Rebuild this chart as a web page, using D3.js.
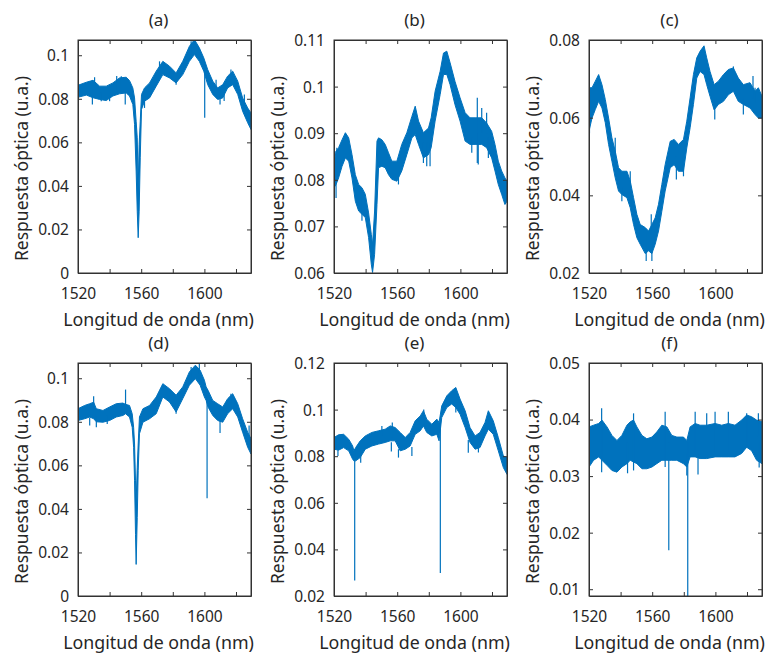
<!DOCTYPE html>
<html>
<head>
<meta charset="utf-8">
<script src="https://cdn.jsdelivr.net/npm/d3@7"></script>
<style>
  body { margin: 0; background: #fff; }
  svg text { font-family: "Noto Sans", sans-serif; fill: #262626; }
</style>
</head>
<body>
<svg id="canvas" width="771" height="656"></svg>
<script>
// ---- data (wavelength in nm, response in a.u.) ----
// each panel: noise band (lower / upper edge) + single spikes

const xDomain = [1520, 1629.5];
const xTicks = [1520, 1540, 1560, 1580, 1600, 1620];
const xTickLabels = ['1520', '', '1560', '', '1600', ''];

// (a)
const wlA = [1520, 1525.3, 1529.5, 1533.7, 1537.9, 1542.1, 1546.3, 1550.5, 1552.6, 1554.7, 1555.8, 1556.8, 1557.5, 1558.1, 1558.7, 1559.4, 1560.2, 1562.1, 1565.3, 1569.5, 1573.7, 1577.9, 1582.1, 1586.3, 1590.5, 1593.7, 1596.8, 1599.6, 1602.1, 1605.3, 1608.4, 1611.6, 1614.7, 1617.9, 1621.1, 1624.2, 1627.4, 1629.5];
const hiA = [0.0862, 0.0876, 0.0885, 0.0858, 0.0858, 0.0873, 0.0896, 0.0899, 0.0884, 0.0850, 0.0804, 0.0697, 0.0621, 0.0391, 0.0590, 0.0697, 0.0820, 0.0850, 0.0873, 0.0927, 0.0972, 0.0950, 0.0919, 0.0972, 0.1041, 0.1072, 0.1034, 0.0988, 0.0934, 0.0881, 0.0850, 0.0865, 0.0904, 0.0927, 0.0881, 0.0804, 0.0758, 0.0735];
const loA = [0.0807, 0.0817, 0.0805, 0.0797, 0.0792, 0.0813, 0.0823, 0.0827, 0.0813, 0.0774, 0.0682, 0.0468, 0.0284, 0.0162, 0.0284, 0.0529, 0.0751, 0.0789, 0.0804, 0.0858, 0.0911, 0.0896, 0.0873, 0.0911, 0.0972, 0.1003, 0.0972, 0.0927, 0.0865, 0.0820, 0.0797, 0.0804, 0.0850, 0.0865, 0.0820, 0.0743, 0.0690, 0.0659];
const spkWlA = [1529.1, 1530.5, 1534.7, 1540.0, 1544.5, 1547.4, 1549.9, 1562.1, 1571.6, 1582.1, 1591.6, 1600.2, 1607.4, 1609.9, 1612.5, 1616.8, 1625.3];
const spkLoA = [0.0774, 0.0860, 0.0789, 0.0789, 0.0830, 0.0850, 0.0774, 0.0758, 0.0920, 0.0865, 0.1010, 0.0713, 0.0840, 0.0774, 0.0790, 0.0890, 0.0780];
const spkHiA = [0.0850, 0.0899, 0.0830, 0.0830, 0.0905, 0.0904, 0.0830, 0.0810, 0.0972, 0.0900, 0.1064, 0.0960, 0.0888, 0.0820, 0.0830, 0.0934, 0.0820];
const yTicksA = [0, 0.02, 0.04, 0.06, 0.08, 0.1];

// (b)
const wlB = [1520, 1521.3, 1522.9, 1525.1, 1527.2, 1529.3, 1531.4, 1533.5, 1535.6, 1537.7, 1539.8, 1541.9, 1543.6, 1544.4, 1545.7, 1547.2, 1548.2, 1550.3, 1552.4, 1554.5, 1556.6, 1559.8, 1562.9, 1566.1, 1569.3, 1571.4, 1573.5, 1576.6, 1579.8, 1581.5, 1584.0, 1587.2, 1589.3, 1591.4, 1593.5, 1596.6, 1599.8, 1603.0, 1606.1, 1609.3, 1613.5, 1616.6, 1619.8, 1621.9, 1624.0, 1626.1, 1628.2, 1629.5];
const hiB = [0.0833, 0.0861, 0.0869, 0.0886, 0.0901, 0.0890, 0.0854, 0.0811, 0.0790, 0.0783, 0.0769, 0.0729, 0.0683, 0.0661, 0.0733, 0.0883, 0.0890, 0.0886, 0.0876, 0.0858, 0.0840, 0.0840, 0.0876, 0.0901, 0.0936, 0.0958, 0.0926, 0.0901, 0.0911, 0.0933, 0.0990, 0.1033, 0.1072, 0.1076, 0.1051, 0.1011, 0.0976, 0.0944, 0.0933, 0.0933, 0.0933, 0.0922, 0.0904, 0.0876, 0.0840, 0.0819, 0.0804, 0.0797];
const loB = [0.0783, 0.0790, 0.0804, 0.0829, 0.0847, 0.0840, 0.0804, 0.0754, 0.0733, 0.0726, 0.0719, 0.0676, 0.0619, 0.0601, 0.0640, 0.0747, 0.0826, 0.0829, 0.0826, 0.0811, 0.0801, 0.0797, 0.0819, 0.0854, 0.0890, 0.0897, 0.0876, 0.0847, 0.0854, 0.0869, 0.0926, 0.0983, 0.1026, 0.1026, 0.1004, 0.0961, 0.0926, 0.0883, 0.0876, 0.0876, 0.0876, 0.0869, 0.0847, 0.0819, 0.0790, 0.0769, 0.0747, 0.0754];
const spkWlB = [1521.3, 1521.8, 1537.7, 1560.8, 1576.6, 1578.7, 1580.8, 1607.2, 1610.7, 1611.3, 1613.5, 1616.6, 1617.7, 1620.8];
const spkLoB = [0.0761, 0.0810, 0.0712, 0.0790, 0.0836, 0.0829, 0.0829, 0.0858, 0.0836, 0.0833, 0.0900, 0.0900, 0.0847, 0.0840];
const spkHiB = [0.0861, 0.0869, 0.0760, 0.0830, 0.0880, 0.0880, 0.0880, 0.0890, 0.0976, 0.0900, 0.0954, 0.0944, 0.0890, 0.0880];
const yTicksB = [0.06, 0.07, 0.08, 0.09, 0.1, 0.11];

// (c)
const wlC = [1520, 1521.9, 1524.0, 1526.1, 1528.2, 1530.3, 1532.4, 1534.5, 1536.6, 1538.7, 1540.8, 1544.0, 1546.1, 1548.2, 1550.3, 1552.4, 1555.6, 1557.7, 1559.8, 1561.9, 1564.0, 1566.1, 1568.2, 1571.4, 1573.9, 1576.6, 1579.8, 1581.9, 1584.0, 1586.1, 1588.2, 1590.3, 1592.8, 1594.5, 1596.6, 1599.2, 1601.9, 1605.1, 1608.2, 1611.4, 1614.5, 1617.7, 1621.9, 1625.1, 1627.2, 1629.5];
const hiC = [0.0677, 0.0677, 0.0694, 0.0711, 0.0685, 0.0647, 0.0599, 0.0548, 0.0514, 0.0471, 0.0462, 0.0462, 0.0437, 0.0394, 0.0351, 0.0325, 0.0317, 0.0308, 0.0325, 0.0342, 0.0377, 0.0428, 0.0479, 0.0539, 0.0544, 0.0531, 0.0544, 0.0591, 0.0651, 0.0711, 0.0754, 0.0771, 0.0785, 0.0754, 0.0719, 0.0685, 0.0694, 0.0711, 0.0724, 0.0728, 0.0702, 0.0685, 0.0690, 0.0668, 0.0677, 0.0655];
const loC = [0.0565, 0.0599, 0.0621, 0.0642, 0.0625, 0.0587, 0.0531, 0.0488, 0.0445, 0.0411, 0.0402, 0.0394, 0.0368, 0.0325, 0.0291, 0.0274, 0.0250, 0.0257, 0.0250, 0.0274, 0.0308, 0.0359, 0.0411, 0.0471, 0.0479, 0.0462, 0.0462, 0.0522, 0.0574, 0.0634, 0.0702, 0.0719, 0.0711, 0.0685, 0.0655, 0.0620, 0.0634, 0.0642, 0.0659, 0.0668, 0.0642, 0.0634, 0.0625, 0.0608, 0.0599, 0.0599];
const spkWlC = [1520.3, 1536.6, 1540.8, 1546.1, 1556.2, 1559.4, 1559.8, 1575.3, 1579.8, 1599.6, 1611.4, 1617.7, 1623.8, 1625.1];
const spkLoC = [0.0560, 0.0500, 0.0385, 0.0420, 0.0231, 0.0300, 0.0231, 0.0441, 0.0449, 0.0595, 0.0690, 0.0608, 0.0650, 0.0640];
const spkHiC = [0.0660, 0.0548, 0.0420, 0.0462, 0.0300, 0.0351, 0.0280, 0.0500, 0.0500, 0.0650, 0.0732, 0.0650, 0.0707, 0.0677];
const yTicksC = [0.02, 0.04, 0.06, 0.08];

// (d)
const wlD = [1520, 1524.2, 1527.4, 1529.9, 1531.6, 1535.8, 1540.0, 1544.2, 1548.4, 1550.1, 1552.6, 1554.3, 1555.2, 1555.8, 1556.4, 1556.8, 1557.5, 1558.1, 1558.9, 1561.1, 1565.3, 1569.5, 1573.7, 1577.9, 1582.1, 1586.3, 1590.5, 1594.3, 1597.3, 1600.0, 1601.1, 1602.3, 1605.3, 1608.4, 1611.6, 1614.7, 1617.9, 1621.1, 1624.2, 1627.4, 1629.5];
const hiD = [0.0860, 0.0875, 0.0883, 0.0890, 0.0860, 0.0852, 0.0868, 0.0883, 0.0886, 0.0880, 0.0875, 0.0837, 0.0775, 0.0698, 0.0529, 0.0437, 0.0591, 0.0698, 0.0822, 0.0860, 0.0875, 0.0914, 0.0975, 0.0952, 0.0922, 0.0960, 0.1029, 0.1060, 0.1037, 0.0991, 0.0960, 0.0945, 0.0898, 0.0883, 0.0868, 0.0906, 0.0929, 0.0883, 0.0814, 0.0752, 0.0722];
const loD = [0.0806, 0.0814, 0.0822, 0.0814, 0.0800, 0.0798, 0.0806, 0.0822, 0.0829, 0.0837, 0.0822, 0.0775, 0.0683, 0.0529, 0.0283, 0.0145, 0.0360, 0.0575, 0.0745, 0.0798, 0.0814, 0.0837, 0.0914, 0.0891, 0.0845, 0.0906, 0.0968, 0.0998, 0.0968, 0.0914, 0.0898, 0.0868, 0.0829, 0.0806, 0.0798, 0.0837, 0.0860, 0.0822, 0.0752, 0.0683, 0.0652];
const spkWlD = [1527.4, 1529.9, 1531.6, 1538.5, 1550.1, 1582.1, 1591.6, 1596.8, 1601.7, 1609.9, 1616.8, 1628.3];
const spkLoD = [0.0783, 0.0860, 0.0775, 0.0790, 0.0840, 0.0837, 0.1000, 0.1020, 0.0449, 0.0748, 0.0890, 0.0720];
const spkHiD = [0.0820, 0.0917, 0.0830, 0.0830, 0.0948, 0.0880, 0.1052, 0.1075, 0.0950, 0.0820, 0.0929, 0.0783];
const yTicksD = [0, 0.02, 0.04, 0.06, 0.08, 0.1];

// (e)
const wlE = [1520, 1522.9, 1526.1, 1529.3, 1531.8, 1532.6, 1533.7, 1536.6, 1539.8, 1544.0, 1548.2, 1552.4, 1555.6, 1558.7, 1561.9, 1565.1, 1568.2, 1571.4, 1574.6, 1576.6, 1578.7, 1581.9, 1585.1, 1586.5, 1588.2, 1591.4, 1594.5, 1597.1, 1599.8, 1603.0, 1606.1, 1609.3, 1612.4, 1615.6, 1617.7, 1620.8, 1624.0, 1627.2, 1629.5];
const hiE = [0.0880, 0.0892, 0.0894, 0.0873, 0.0844, 0.0823, 0.0837, 0.0866, 0.0887, 0.0902, 0.0909, 0.0916, 0.0930, 0.0923, 0.0902, 0.0880, 0.0902, 0.0952, 0.0973, 0.0995, 0.0959, 0.0937, 0.0959, 0.0945, 0.1016, 0.1059, 0.1081, 0.1095, 0.1045, 0.0995, 0.0923, 0.0887, 0.0902, 0.0945, 0.0995, 0.0952, 0.0880, 0.0801, 0.0794];
const loE = [0.0830, 0.0826, 0.0837, 0.0823, 0.0787, 0.0780, 0.0780, 0.0794, 0.0830, 0.0844, 0.0852, 0.0859, 0.0866, 0.0866, 0.0823, 0.0830, 0.0844, 0.0894, 0.0909, 0.0930, 0.0902, 0.0887, 0.0894, 0.0866, 0.0966, 0.1009, 0.1024, 0.1009, 0.0980, 0.0923, 0.0859, 0.0830, 0.0837, 0.0887, 0.0916, 0.0894, 0.0823, 0.0751, 0.0722];
const spkWlE = [1522.5, 1533.1, 1536.9, 1550.3, 1556.3, 1556.9, 1560.8, 1569.3, 1576.8, 1587.3, 1597.1, 1605.0, 1611.4];
const spkLoE = [0.0801, 0.0266, 0.0772, 0.0890, 0.0820, 0.0880, 0.0794, 0.0801, 0.0930, 0.0299, 0.0988, 0.0815, 0.0816];
const spkHiE = [0.0850, 0.0830, 0.0800, 0.0930, 0.0860, 0.0945, 0.0830, 0.0840, 0.1000, 0.0945, 0.1020, 0.0870, 0.0850];
const yTicksE = [0.02, 0.04, 0.06, 0.08, 0.1, 0.12];

// (f)
const wlF = [1520, 1522.9, 1526.1, 1528.2, 1531.4, 1534.5, 1537.7, 1540.8, 1544.0, 1546.1, 1548.2, 1550.3, 1553.5, 1556.6, 1559.8, 1562.9, 1566.1, 1569.3, 1572.4, 1575.6, 1579.8, 1581.9, 1584.0, 1587.2, 1590.3, 1594.5, 1599.8, 1604.0, 1608.2, 1612.4, 1616.6, 1619.8, 1622.9, 1626.1, 1629.5];
const hiF = [0.0387, 0.0390, 0.0393, 0.0399, 0.0387, 0.0372, 0.0363, 0.0372, 0.0390, 0.0396, 0.0399, 0.0387, 0.0372, 0.0366, 0.0369, 0.0378, 0.0390, 0.0387, 0.0372, 0.0369, 0.0369, 0.0363, 0.0387, 0.0393, 0.0390, 0.0390, 0.0393, 0.0390, 0.0393, 0.0390, 0.0399, 0.0408, 0.0405, 0.0399, 0.0396];
const loF = [0.0316, 0.0328, 0.0334, 0.0328, 0.0319, 0.0310, 0.0307, 0.0316, 0.0322, 0.0328, 0.0325, 0.0322, 0.0313, 0.0313, 0.0316, 0.0322, 0.0328, 0.0328, 0.0328, 0.0328, 0.0322, 0.0316, 0.0334, 0.0334, 0.0331, 0.0331, 0.0334, 0.0334, 0.0334, 0.0334, 0.0340, 0.0351, 0.0345, 0.0328, 0.0322];
const spkWlF = [1520.2, 1528.0, 1544.4, 1548.2, 1568.2, 1570.5, 1581.9, 1582.5, 1587.2, 1589.0, 1594.5, 1599.8, 1608.2, 1619.8, 1627.2, 1627.7];
const spkLoF = [0.0310, 0.0307, 0.0305, 0.0310, 0.0316, 0.0169, 0.0301, 0.0080, 0.0340, 0.0303, 0.0380, 0.0340, 0.0340, 0.0350, 0.0370, 0.0315];
const spkHiF = [0.0350, 0.0420, 0.0360, 0.0411, 0.0414, 0.0360, 0.0340, 0.0360, 0.0414, 0.0340, 0.0411, 0.0414, 0.0414, 0.0411, 0.0411, 0.0360];
const yTicksF = [0.01, 0.02, 0.03, 0.04, 0.05];

const titles = ['(a)', '(b)', '(c)', '(d)', '(e)', '(f)'];
const yDomains = [[0, 0.107], [0.06, 0.11], [0.02, 0.08], [0, 0.107], [0.02, 0.12], [0.0088, 0.05]];

const panels = [
	{ wl: wlA, lo: loA, hi: hiA, sWl: spkWlA, sLo: spkLoA, sHi: spkHiA, yTicks: yTicksA },
	{ wl: wlB, lo: loB, hi: hiB, sWl: spkWlB, sLo: spkLoB, sHi: spkHiB, yTicks: yTicksB },
	{ wl: wlC, lo: loC, hi: hiC, sWl: spkWlC, sLo: spkLoC, sHi: spkHiC, yTicks: yTicksC },
	{ wl: wlD, lo: loD, hi: hiD, sWl: spkWlD, sLo: spkLoD, sHi: spkHiD, yTicks: yTicksD },
	{ wl: wlE, lo: loE, hi: hiE, sWl: spkWlE, sLo: spkLoE, sHi: spkHiE, yTicks: yTicksE },
	{ wl: wlF, lo: loF, hi: hiF, sWl: spkWlF, sLo: spkLoF, sHi: spkHiF, yTicks: yTicksF }
];

//layout
const lefts = [78, 334, 589];
const tops = [40, 363];
const pw = 173;
const ph = 233;
const blue = '#0072BD';
const axisColor = '#333';

const svg = d3.select('#canvas');

panels.forEach((p, i) => {
	const col = i % 3;
	const row = Math.floor(i / 3);
	const g = svg.append('g').attr('transform', 'translate(' + lefts[col] + ',' + tops[row] + ')');

	const x = d3.scaleLinear().domain(xDomain).range([ 0, pw ]);
	const y = d3.scaleLinear().domain(yDomains[i]).range([ ph, 0 ]);

	g.append('clipPath').attr('id', 'clip' + i).append('rect').attr('width', pw).attr('height', ph);
	const plot = g.append('g').attr('clip-path', 'url(#clip' + i + ')');

	// noise band
	const band = p.wl.map((w, k) => ({ w: w, lo: p.lo[k], hi: p.hi[k] }));
	const area = d3.area().x((d) => x(d.w)).y0((d) => y(d.lo)).y1((d) => y(d.hi));
	plot.append('path').datum(band).attr('d', area)
		.attr('fill', blue).attr('stroke', blue).attr('stroke-width', 1).attr('stroke-linejoin', 'miter');

	// spikes
	const spikes = p.sWl.map((w, k) => [ { w: w, v: p.sLo[k] }, { w: w, v: p.sHi[k] } ]);
	const line = d3.line().x((d) => x(d.w)).y((d) => y(d.v));
	plot.selectAll('.spike').data(spikes).enter().append('path')
		.attr('class', 'spike').attr('d', line)
		.attr('fill', 'none').attr('stroke', blue).attr('stroke-width', 1.2);

	// axes (ticks inside, mirrored like matlab box)
	const xb = d3.axisBottom(x).tickValues(xTicks).tickSizeInner(-4).tickSizeOuter(0)
		.tickFormat((d, k) => xTickLabels[k]);
	const xt = d3.axisTop(x).tickValues(xTicks).tickSizeInner(-4).tickSizeOuter(0).tickFormat('');
	const yl = d3.axisLeft(y).tickValues(p.yTicks).tickSizeInner(-4).tickSizeOuter(0).tickFormat((d) => String(d));
	const yr = d3.axisRight(y).tickValues(p.yTicks).tickSizeInner(-4).tickSizeOuter(0).tickFormat('');

	const gxb = g.append('g').attr('transform', 'translate(0,' + ph + ')').call(xb);
	g.append('g').call(xt);
	const gyl = g.append('g').call(yl);
	g.append('g').attr('transform', 'translate(' + pw + ',0)').call(yr);

	g.selectAll('.domain').attr('stroke', axisColor);
	g.selectAll('.tick line').attr('stroke', axisColor);
	gxb.selectAll('text').attr('y', 21).attr('dy', '0.35em').style('font-size', '15.5px').attr('fill', '#262626');
	gyl.selectAll('text').attr('x', -9).attr('dy', '0.35em').style('font-size', '15.5px').attr('fill', '#262626');

	g.append('rect').attr('width', pw).attr('height', ph).attr('fill', 'none').attr('stroke', axisColor);

	// texts
	g.append('text').attr('x', pw / 2 - 6).attr('y', -20).attr('dy', '0.35em')
		.attr('text-anchor', 'middle').style('font-size', '17px').text(titles[i]);
	g.append('text').attr('x', pw / 2 - 6).attr('y', ph + 47).attr('dy', '0.35em')
		.attr('text-anchor', 'middle').style('font-size', '17.8px').text('Longitud de onda (nm)');
	g.append('text').attr('transform', 'translate(-56,' + (ph / 2 + 12) + ') rotate(-90)').attr('dy', '0.35em')
		.attr('text-anchor', 'middle').style('font-size', '17.5px').text('Respuesta óptica (u.a.)');
});
</script>
</body>
</html>
